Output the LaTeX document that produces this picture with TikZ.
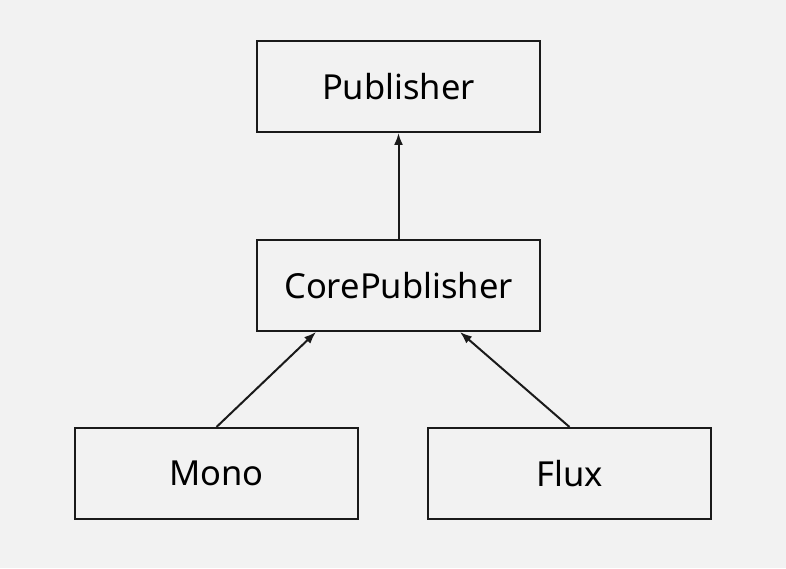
\documentclass[tikz,border=0pt]{standalone}
\usepackage{fontspec}
\setmainfont{Noto Sans}
\usepackage{tikz}
\usetikzlibrary{shapes,arrows.meta,positioning}
\definecolor{fondo}{HTML}{F2F2F2}
\definecolor{linea}{HTML}{1A1A1A}

\begin{document}
\begin{tikzpicture}[x=1pt,y=1pt,
	caja/.style={draw=linea,line width=2pt,minimum width=283pt,minimum height=91pt,inner sep=0pt,font=\fontsize{34.5}{40}\selectfont},
	flecha/.style={draw=linea,line width=2pt,-{Latex[length=12pt,width=9pt]}}]
		\fill[fondo] (0,0) rectangle (786,568); % fondo
		\useasboundingbox (0,0) rectangle (786,568);
		\node[caja] (publisher) at (398.5,481.5) {Publisher};
		\node[caja] (core) at (398.5,282.5) {CorePublisher};
		\node[caja] (mono) at (216.5,94.5) {Mono};
		\node[caja] (flux) at (569.5,94.5) {Flux};
		\coordinate (coreizq) at ([xshift=-82.5pt]core.south);
		\coordinate (coreder) at ([xshift=61.5pt]core.south);
		\draw[flecha] (core) -- (publisher);
		\draw[flecha] (mono.north) -- (coreizq);
		\draw[flecha] (flux.north) -- (coreder);
\end{tikzpicture}
\end{document}
